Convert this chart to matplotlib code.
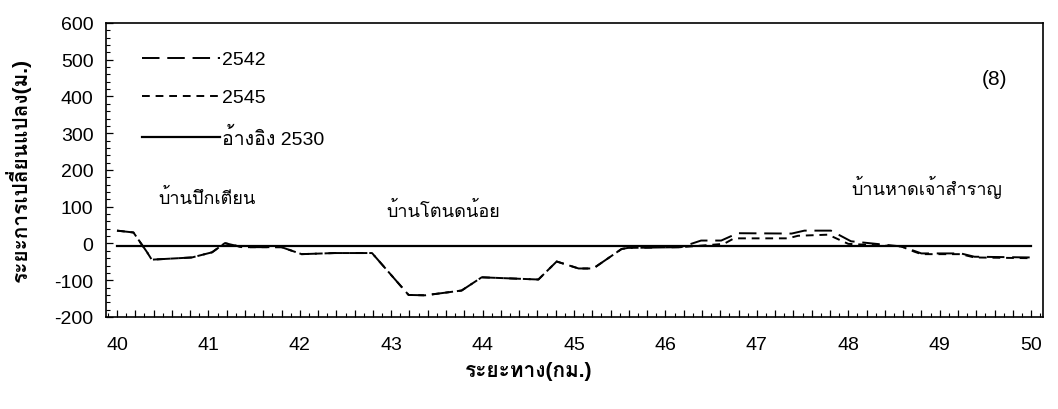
import matplotlib
matplotlib.use("Agg")
import matplotlib.pyplot as plt
from matplotlib import font_manager
from matplotlib.ft2font import FT2Font
from matplotlib.ticker import MultipleLocator, FuncFormatter

# distance (km) and shoreline change (m)
km_2542 = [40.0, 40.18, 40.33, 40.38, 40.82, 41.04, 41.18, 41.37, 41.8, 42.02, 42.38, 42.79,
           43.19, 43.37, 43.77, 43.99, 44.61, 44.81, 45.05, 45.21, 45.52, 45.59, 46.17,
           46.39, 46.61, 46.79, 47.38, 47.52, 47.81, 48.03, 48.58, 48.72, 48.8, 49.23, 49.38, 50.0]
val_2542 = [35, 30, -24, -44, -38, -24, 1, -10, -10, -29, -26, -26,
            -140, -141, -128, -92, -98, -49, -68, -68, -15, -12, -10,
            8, 8, 28, 27, 35, 35, 6, -8, -20, -27, -27, -36, -38]

km_2545 = [40.0, 40.18, 40.33, 40.38, 40.82, 41.04, 41.18, 41.37, 41.8, 42.02, 42.38, 42.79,
           43.19, 43.37, 43.77, 43.99, 44.61, 44.81, 45.05, 45.21, 45.52, 45.59, 46.17,
           46.64, 46.75, 47.34, 47.45, 47.78, 48.0, 48.58, 48.72, 48.8, 49.23, 49.38, 50.0]
val_2545 = [35, 30, -24, -44, -38, -24, 1, -10, -10, -29, -26, -26,
            -140, -141, -128, -92, -98, -49, -68, -68, -15, -12, -10,
            -1, 14, 14, 21, 24, -1, -8, -22, -29, -29, -38, -40]

km_ref = [40.0, 50.0]
val_ref = [-7, -7]

labels = ["2542", "2545", "อ้างอิง 2530"]
places = ["บ้านปึกเตียน", "บ้านโตนดน้อย", "บ้านหาดเจ้าสำราญ"]
place_km = [40.45, 42.95, 48.03]
place_val = [125, 90, 155]


def thai_font():
    # pick an installed font that has Thai glyphs
    for f in font_manager.fontManager.ttflist:
        try:
            if 0x0E1A in FT2Font(f.fname).get_charmap():
                return f.name
        except Exception:
            pass
    return "DejaVu Sans"


thai = thai_font()
plt.rcParams['font.family'] = ['Liberation Sans', thai, 'DejaVu Sans']
plt.rcParams['axes.unicode_minus'] = False

fig = plt.figure(figsize=(10.58, 4.1), dpi=100)
ax = fig.add_axes([0.1002, 0.2244, 0.8856, 0.7171])

ax.plot(km_2542, val_2542, color="black", lw=1.4, dashes=(9, 4), label=labels[0])
ax.plot(km_2545, val_2545, color="black", lw=1.4, dashes=(4, 3), label=labels[1])
ax.plot(km_ref, val_ref, color="black", lw=1.6, label=labels[2])

ax.set_xlim(39.88, 50.13)
ax.set_ylim(-200, 600)
ax.xaxis.set_major_locator(MultipleLocator(0.2))
ax.xaxis.set_minor_locator(MultipleLocator(0.1))
ax.xaxis.set_major_formatter(FuncFormatter(lambda v, p: "%d" % round(v) if abs(v - round(v)) < 1e-6 else ""))
ax.yaxis.set_major_locator(MultipleLocator(100))
ax.yaxis.set_minor_locator(MultipleLocator(20))
ax.tick_params(axis="both", which="major", direction="in", length=5, width=0.9, labelsize=14)
ax.tick_params(axis="both", which="minor", direction="in", length=3, width=0.8)
ax.tick_params(axis="x", which="major", pad=14)
ax.tick_params(axis="y", which="major", pad=9)

for s in ax.spines.values():
    s.set_linewidth(1.2)

for name, x, y in zip(places, place_km, place_val):
    ax.text(x, y, name, fontsize=13, ha="left", va="center")
ax.text(49.6, 450, "(8)", fontsize=15, ha="center", va="center")

ax.legend(loc="upper left", bbox_to_anchor=(0.02, 0.965), frameon=False, fontsize=14,
          handlelength=4.0, handletextpad=0.1, labelspacing=1.05)

fig.text(0.50, 0.095, "ระยะทาง(กม.)", fontsize=15, fontweight="bold", ha="center", va="center")
fig.text(0.017, 0.585, "ระยะการเปลี่ยนแปลง(ม.)", fontsize=15, fontweight="bold",
         rotation=90, ha="center", va="center")

fig.savefig("out.png", dpi=100)
